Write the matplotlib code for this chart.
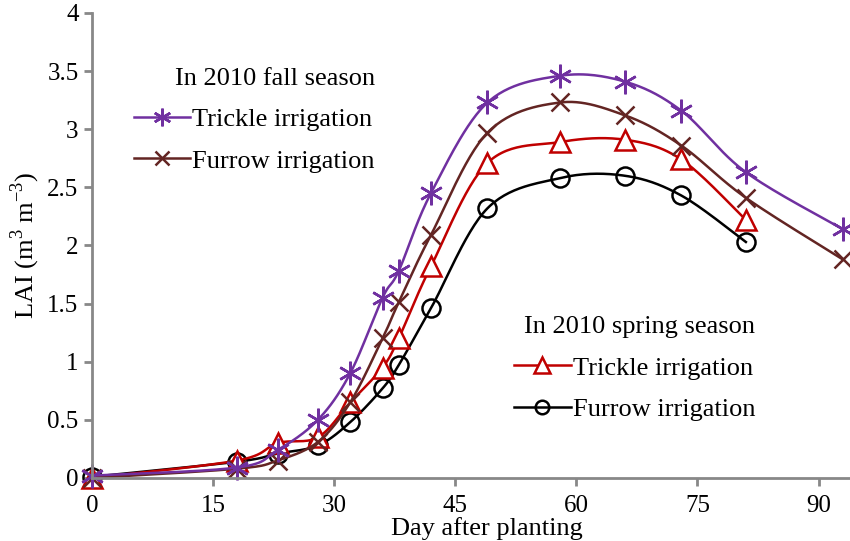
import numpy as np
import matplotlib.pyplot as plt

plt.rcParams['font.family'] = 'Liberation Serif'
plt.rcParams['mathtext.fontset'] = 'custom'
plt.rcParams['mathtext.rm'] = 'Liberation Serif'

# Data (day after planting vs LAI)
fall_days = [0, 18, 23, 28, 32, 36, 38, 42, 49, 58, 66, 73, 81, 93]
fall_trickle = [0.02, 0.09, 0.24, 0.50, 0.90, 1.55, 1.78, 2.45, 3.23, 3.46, 3.41, 3.16, 2.63, 2.14]
fall_furrow = [0.0, 0.08, 0.15, 0.31, 0.65, 1.20, 1.51, 2.09, 2.97, 3.23, 3.12, 2.86, 2.41, 1.88]

spring_days = [0, 18, 23, 28, 32, 36, 38, 42, 49, 58, 66, 73, 81]
spring_trickle = [0.0, 0.15, 0.30, 0.35, 0.65, 0.95, 1.20, 1.82, 2.71, 2.89, 2.91, 2.74, 2.22]
spring_furrow = [0.01, 0.14, 0.21, 0.28, 0.48, 0.77, 0.97, 1.46, 2.32, 2.58, 2.60, 2.43, 2.03]

x_ticks = [0, 15, 30, 45, 60, 75, 90]
y_ticks = [0, 0.5, 1, 1.5, 2, 2.5, 3, 3.5, 4]


def smooth(x, y, n=30):
    # Excel-like smoothed line (Catmull-Rom style bezier segments)
    p = np.column_stack([x, y]).astype(float)
    pts = []
    for i in range(len(p) - 1):
        p0 = p[i - 1] if i > 0 else p[i]
        p1, p2 = p[i], p[i + 1]
        p3 = p[i + 2] if i + 2 < len(p) else p[i + 1]
        c1 = p1 + (p2 - p0) / 6
        c2 = p2 - (p3 - p1) / 6
        t = np.linspace(0, 1, n)[:, None]
        seg = ((1 - t) ** 3) * p1 + 3 * ((1 - t) ** 2) * t * c1 + 3 * (1 - t) * t ** 2 * c2 + t ** 3 * p2
        pts.append(seg if i == 0 else seg[1:])
    pts = np.vstack(pts)
    return pts[:, 0], pts[:, 1]


fig = plt.figure(figsize=(8.5, 5.41), dpi=100)
ax = fig.add_axes([0.108, 0.1165, 0.893, 0.8595])

series = [
    (spring_days, spring_furrow, 'black', 'o', 13, 'none', 'Furrow irrigation'),
    (spring_days, spring_trickle, '#C00000', '^', 15, 'white', 'Trickle irrigation'),
    (fall_days, fall_furrow, '#632523', 'x', 13, 'none', 'Furrow irrigation'),
    (fall_days, fall_trickle, '#7030A0', (6, 2, 0), 17, 'none', 'Trickle irrigation'),
]

handles = []
for x, y, c, m, ms, fc, lab in series:
    sx, sy = smooth(x, y)
    ax.plot(sx, sy, color=c, lw=1.8, clip_on=False)
    ax.plot(x, y, ls='none', marker=m, ms=ms, mec=c, mfc=fc, mew=1.8, clip_on=False)
    h, = ax.plot([], [], color=c, lw=1.8, marker=m, ms=ms * 0.75, mec=c, mfc=fc, mew=1.8, label=lab)
    handles.append(h)

ax.set_xlim(0, 94)
ax.set_ylim(0, 4)
ax.set_xticks(x_ticks)
ax.set_yticks(y_ticks)
ax.set_yticklabels(['0', '0.5', '1', '1.5', '2', '2.5', '3', '3.5', '4'])

for s in ['top', 'right']:
    ax.spines[s].set_visible(False)
for s in ['left', 'bottom']:
    ax.spines[s].set_color('#888888')
    ax.spines[s].set_linewidth(2)
ax.tick_params(axis='both', colors='#888888', width=2, length=6, labelsize=18, labelcolor='black')
ax.tick_params(axis='x', pad=6)

ax.set_xlabel('Day after planting', fontsize=19, labelpad=0)
ax.xaxis.set_label_coords(0.52, -0.085)
ax.set_ylabel('LAI (m$^3$ m$^{-3}$)', fontsize=19, labelpad=4)

leg_kw = dict(frameon=False, fontsize=19, title_fontsize=19, alignment='right',
              handlelength=2.15, handletextpad=0.08, labelspacing=0.68,
              borderpad=0, borderaxespad=0, loc='upper right')
leg1 = ax.legend(handles=[handles[3], handles[2]], title='In 2010 fall season',
                 bbox_to_anchor=(0.373, 0.882), **leg_kw)
ax.add_artist(leg1)
ax.legend(handles=[handles[1], handles[0]], title='In 2010 spring season',
          bbox_to_anchor=(0.874, 0.348), **leg_kw)

fig.savefig('out.png', dpi=100)
